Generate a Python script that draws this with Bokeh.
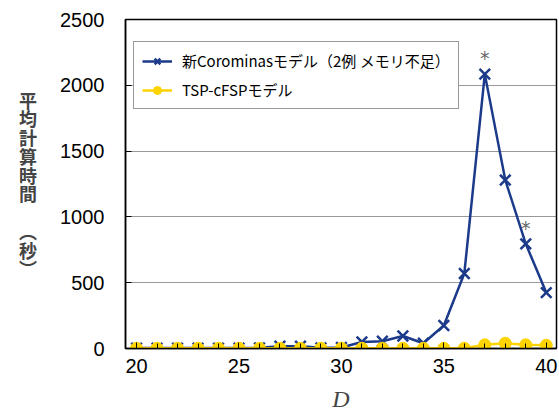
from bokeh.plotting import figure
from bokeh.embed import file_html
from bokeh.resources import INLINE
from bokeh.models import (Legend, LegendItem, FixedTicker, ColumnDataSource, Range1d)
from bokeh.core.properties import value

d_values = list(range(20, 41))
corominas = [3, 3, 3, 3, 3, 3, 5, 18, 18, 5, 8, 50, 55, 95, 40, 175, 570, 2085, 1280, 795, 425]
tsp = [2, 2, 2, 2, 2, 2, 2, 2, 2, 2, 2, 2, 2, 2, 2, 2, 2, 28, 40, 28, 25]
star_x = [37, 39]
star_y = [2085, 795]
y_ticks = [0, 500, 1000, 1500, 2000, 2500]
x_ticks = [20, 25, 30, 35, 40]
label_1 = "新Corominasモデル（2例 メモリ不足）"
label_2 = "TSP-cFSPモデル"
ylabel_chars = ["平", "均", "計", "算", "時", "間", "", "︵", "秒", "︶"]

BLUE = "#1c3a8a"
YELLOW = "#fdd300"

p = figure(width=559, height=414, output_backend="svg", toolbar_location=None,
           x_range=Range1d(19.46, 40.5), y_range=Range1d(0, 2500),
           min_border_left=125, min_border_right=3, min_border_top=19, min_border_bottom=0)
p.outline_line_color = "black"
p.outline_line_width = 1.5
p.background_fill_color = "white"
p.border_fill_color = "white"

p.xgrid.visible = False
p.ygrid.ticker = FixedTicker(ticks=[500, 1000, 1500, 2000])
p.ygrid.grid_line_color = "#333333"
p.ygrid.grid_line_dash = "1 1"
p.ygrid.grid_line_width = 1

for ax in (p.xaxis[0], p.yaxis[0]):
    ax.axis_line_color = "black"
    ax.axis_line_width = 1.5
    ax.major_tick_out = 0
    ax.major_tick_in = 6
    ax.major_tick_line_color = "black"
    ax.major_label_text_font = "Liberation Sans"
    ax.major_label_text_font_size = "20px"
    ax.major_label_text_color = "black"

p.xaxis.ticker = FixedTicker(ticks=x_ticks, minor_ticks=d_values)
p.xaxis.minor_tick_in = 5
p.xaxis.minor_tick_out = 0
p.xaxis.minor_tick_line_color = "black"
p.xaxis.major_label_standoff = 10
p.xaxis.axis_label = "D"
p.xaxis.axis_label_text_font = "Liberation Serif"
p.xaxis.axis_label_text_font_style = "italic"
p.xaxis.axis_label_text_font_size = "24px"
p.xaxis.axis_label_standoff = 10

p.yaxis.ticker = FixedTicker(ticks=y_ticks)
p.yaxis.minor_tick_line_color = None
p.yaxis.major_label_standoff = 21
p.yaxis.axis_label = "\n".join(ylabel_chars)
p.yaxis.axis_label_orientation = "horizontal"
p.yaxis.axis_label_text_font = "Noto Sans CJK JP"
p.yaxis.axis_label_text_font_style = "bold"
p.yaxis.axis_label_text_font_size = "18px"
p.yaxis.axis_label_text_line_height = 0.72
p.yaxis.axis_label_standoff = 20

src = ColumnDataSource(dict(x=d_values, a=corominas, b=tsp))
l1 = p.line("x", "a", source=src, line_color=BLUE, line_width=2.5)
s1 = p.scatter("x", "a", source=src, marker="x", size=15, line_color=BLUE, line_width=2.5)
l2 = p.line("x", "b", source=src, line_color=YELLOW, line_width=2.5)
s2 = p.scatter("x", "b", source=src, marker="circle", size=12, fill_color=YELLOW, line_color=YELLOW)

p.text(x=star_x, y=star_y, text=["*", "*"], text_align="center", text_baseline="middle",
       y_offset=-16, text_font=value("DejaVu Sans"), text_font_size="19px", text_color="#666666")

legend = Legend(items=[LegendItem(label=label_1, renderers=[l1, s1]),
                       LegendItem(label=label_2, renderers=[l2, s2])],
                location=(8, 239))
legend.label_text_font = "Noto Sans CJK JP"
legend.label_text_font_size = "15px"
legend.label_text_color = "black"
legend.label_standoff = 10
legend.border_line_color = "#333333"
legend.border_line_width = 1
legend.background_fill_alpha = 1
legend.glyph_width = 30
legend.glyph_height = 20
legend.label_height = 20
legend.spacing = 8
legend.padding = 8
legend.margin = 0
p.add_layout(legend, "center")

open("out.html", "w").write(file_html(p, INLINE))
